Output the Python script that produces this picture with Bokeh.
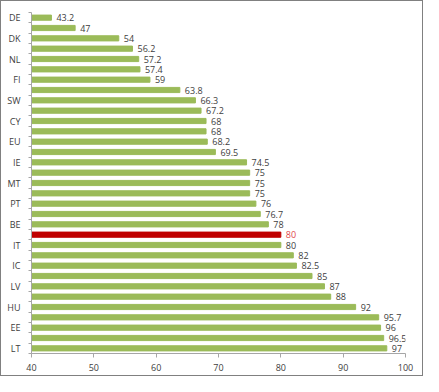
from bokeh.plotting import figure
from bokeh.models import Range1d, FixedTicker, ColumnDataSource
from bokeh.embed import file_html
from bokeh.resources import INLINE
from bokeh.core.properties import value

row_labels = ["DE", "", "DK", "", "NL", "", "FI", "", "SW", "", "CY", "", "EU", "",
              "IE", "", "MT", "", "PT", "", "BE", "", "IT", "", "IC", "", "LV", "",
              "HU", "", "EE", "", "LT"]
values = [43.2, 47, 54, 56.2, 57.2, 57.4, 59, 63.8, 66.3, 67.2, 68, 68, 68.2, 69.5,
          74.5, 75, 75, 75, 76, 76.7, 78, 80, 80, 82, 82.5, 85, 87, 88, 92, 95.7,
          96, 96.5, 97]
value_texts = ["43.2", "47", "54", "56.2", "57.2", "57.4", "59", "63.8", "66.3", "67.2",
               "68", "68", "68.2", "69.5", "74.5", "75", "75", "75", "76", "76.7", "78",
               "80", "80", "82", "82.5", "85", "87", "88", "92", "95.7", "96", "96.5", "97"]
highlight_index = 21
x_ticks = [40, 50, 60, 70, 80, 90, 100]

GREEN = "#9bbb59"
RED = "#c00000"
TXT = "#404040"
FONT = "Open Sans"

n = len(values)
pos = list(range(1, n + 1))
colors = [RED if i == highlight_index else GREEN for i in range(n)]
label_colors = ["#e04a4a" if i == highlight_index else TXT for i in range(n)]

src = ColumnDataSource(dict(y=pos, v=values, t=value_texts, c=colors, lc=label_colors))

p = figure(width=423, height=376, output_backend="svg", toolbar_location=None,
           x_range=Range1d(x_ticks[0], x_ticks[-1]), y_range=Range1d(n + 0.5, 0.5),
           min_border_left=30, min_border_right=19, min_border_top=11, min_border_bottom=24)
p.styles = {"border": "1px solid #808080"}
p.outline_line_color = None
p.xgrid.visible = False
p.ygrid.visible = False
p.background_fill_color = "white"
p.border_fill_color = "white"

p.hbar(y="y", left=x_ticks[0], right="v", height=0.5, color="c", source=src)
p.text(x="v", y="y", text="t", x_offset=5, text_baseline="middle", text_align="left",
       text_font=value(FONT), text_font_size="9px", text_color="lc", source=src)

ax = p.xaxis[0]
ax.ticker = FixedTicker(ticks=x_ticks, minor_ticks=[])
ax.major_tick_in = 0
ax.major_tick_out = 4
ax.minor_tick_out = 0
ax.axis_line_color = "#a6a6a6"
ax.major_tick_line_color = "#a6a6a6"
ax.major_label_text_font = FONT
ax.major_label_text_font_size = "9px"
ax.major_label_text_color = TXT
ax.major_label_standoff = 6

ay = p.yaxis[0]
lab_pos = [pos[i] for i in range(n) if row_labels[i]]
ay.ticker = FixedTicker(ticks=lab_pos, minor_ticks=[k + 0.5 for k in range(n + 1)])
ay.major_label_overrides = {pos[i]: row_labels[i] for i in range(n) if row_labels[i]}
ay.major_tick_in = 0
ay.major_tick_out = 0
ay.minor_tick_in = 0
ay.minor_tick_out = 3
ay.axis_line_color = "#a6a6a6"
ay.minor_tick_line_color = "#a6a6a6"
ay.major_label_text_font = FONT
ay.major_label_text_font_size = "9px"
ay.major_label_text_color = TXT
ay.major_label_standoff = 8

open("out.html", "w").write(file_html(p, INLINE))
